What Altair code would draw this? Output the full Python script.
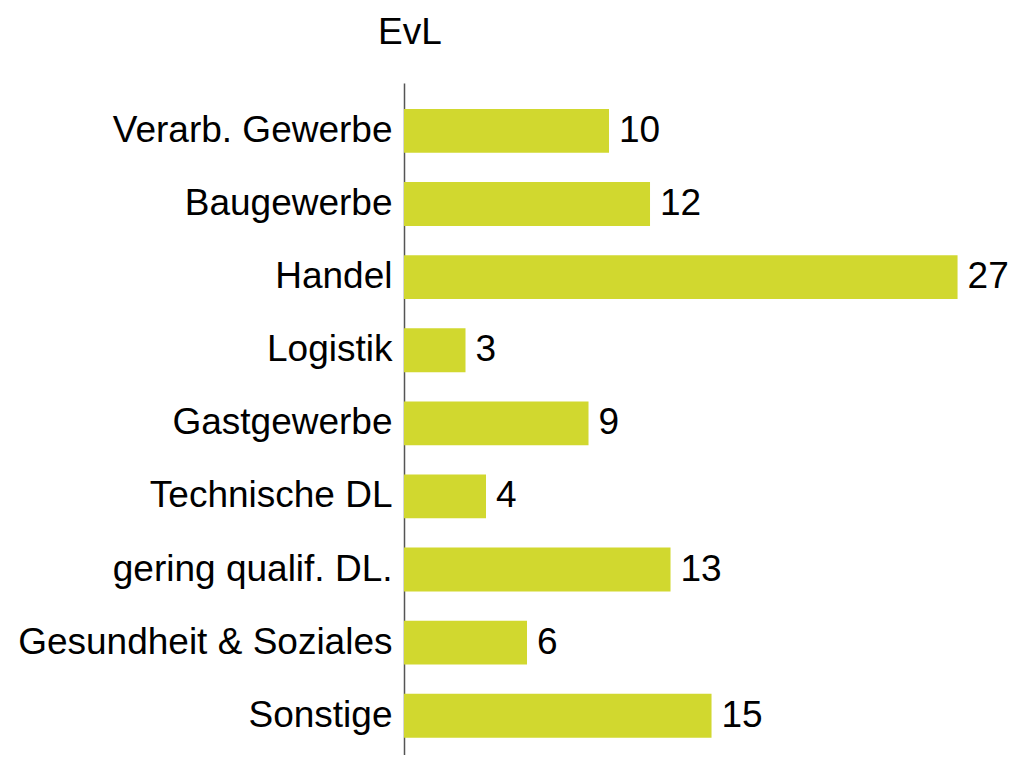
import altair as alt
import pandas as pd

categories = ["Verarb. Gewerbe", "Baugewerbe", "Handel", "Logistik", "Gastgewerbe",
              "Technische DL", "gering qualif. DL.", "Gesundheit & Soziales", "Sonstige"]
values = [10, 12, 27, 3, 9, 4, 13, 6, 15]
title_text = "EvL"

df = pd.DataFrame({"Branche": categories, "Wert": values})
title_df = pd.DataFrame({"t": [title_text]})

FONT = "Liberation Sans, Arial, sans-serif"
BAR = "#D1D82F"
FS = 37

y_enc = alt.Y("Branche:N", sort=categories,
              scale=alt.Scale(paddingInner=0.4, paddingOuter=0.296, align=0.6),
              axis=alt.Axis(title=None, ticks=False, grid=False, domain=True,
                            domainColor="#555555", domainWidth=1.5,
                            labelFontSize=FS, labelFont=FONT, labelColor="#000000",
                            labelPadding=12, labelLimit=600))
x_enc = alt.X("Wert:Q", scale=alt.Scale(domain=[0, 28.29], nice=False), axis=None)

bars = alt.Chart(df).mark_bar(color=BAR).encode(x=x_enc, y=y_enc)
labels = alt.Chart(df).mark_text(align="left", baseline="middle", dx=10,
                                 fontSize=FS, font=FONT, color="#000000").encode(
    x=x_enc, y=y_enc, text=alt.Text("Wert:Q"))
title = alt.Chart(title_df).mark_text(align="left", baseline="alphabetic",
                                      fontSize=FS, font=FONT, color="#000000").encode(
    x=alt.value(-26), y=alt.value(-39), text="t:N")

chart = (bars + labels + title).properties(
    width=580, height=672,
    autosize=alt.AutoSizeParams(type="none"),
    padding={"left": 396, "top": 75, "right": 27, "bottom": 0},
).configure(background="#ffffff").configure_view(stroke=None)

chart.save("out.html", embed_options={"renderer": "svg", "actions": False})
